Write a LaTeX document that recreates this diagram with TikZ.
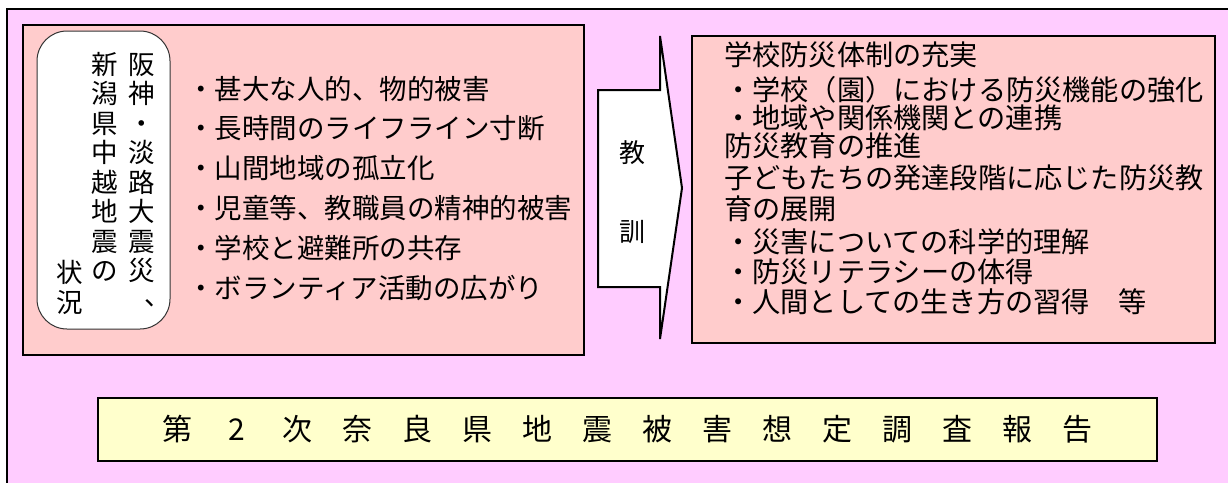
\documentclass[tikz,border=0pt]{standalone}
\usepackage{fontspec}
\newfontfamily\jp{Noto Sans CJK JP}
\definecolor{pinkbg}{RGB}{255,204,255}
\definecolor{rosebox}{RGB}{255,204,204}
\definecolor{creambox}{RGB}{255,255,204}
\tikzset{
  panel/.style={draw=black, line width=2.4pt, rectangle, inner sep=0pt},
  listtext/.style={anchor=base west, inner sep=0pt, font=\jp\fontsize{27.5}{30}\selectfont},
  righttext/.style={anchor=base west, inner sep=0pt, font=\jp\fontsize{28.2}{30}\selectfont},
  vchar/.style={anchor=base, inner sep=0pt, font=\jp\fontsize{26.5}{28}\selectfont},
  bannerchar/.style={anchor=base, inner sep=0pt, font=\jp\fontsize{30}{32}\selectfont},
  arrowchar/.style={anchor=base, inner sep=0pt, font=\jp\fontsize{26}{28}\selectfont}
}
\begin{document}
\begin{tikzpicture}[x=1pt,y=-1pt]
\useasboundingbox (0,0) rectangle (1228,482);
\clip (0,0) rectangle (1228,482);
\fill[white] (0,0) rectangle (1228,482);
% outer frame
\fill[pinkbg] (7,9) rectangle (1240,495);
\draw[line width=2pt] (1240,9) -- (7,9) -- (7,495);
% left panel
\node[panel, fill=rosebox, minimum width=561pt, minimum height=330pt] (leftbox) at (303.5,190) {};
\node[draw=black!80, line width=1pt, fill=white, rectangle, rounded corners=30pt, minimum width=133pt, minimum height=298pt, inner sep=0pt] (oval) at (103.5,180) {};
% vertical columns
\foreach \c [count=\i] in {阪,神,・,淡,路,大,震,災}{
  \node[vchar] (ca\i) at (142,{64+29.5*(\i-1)+10}) {\c};
}
\node[vchar] (ca9) at (158,305) {、};
\foreach \c [count=\i] in {新,潟,県,中,越,地,震,の}{
  \node[vchar] (cb\i) at (105,{64+29.5*(\i-1)+10}) {\c};
}
\node[vchar] (cc1) at (70,{272+10}) {状};
\node[vchar] (cc2) at (70,{302+10}) {況};
% left list
\node[listtext] (l1) at (187,99.5) {・甚大な人的、物的被害};
\node[listtext] (l2) at (187,138.5) {・長時間のライフライン寸断};
\node[listtext] (l3) at (187,178.5) {・山間地域の孤立化};
\node[listtext] (l4) at (187,218.5) {・児童等、教職員の精神的被害};
\node[listtext] (l5) at (187,258.5) {・学校と避難所の共存};
\node[listtext] (l6) at (187,298.5) {・ボランティア活動の広がり};
% arrow
\draw[line width=2pt, fill=white, line join=miter] (598,90) -- (660,90) -- (660,36) -- (682,188) -- (660,339) -- (660,287) -- (598,287) -- cycle;
\node[arrowchar] (k1) at (632,162) {教};
\node[arrowchar] (k2) at (632,241) {訓};
% right panel
\node[panel, line width=2pt, fill=rosebox, minimum width=523pt, minimum height=307pt] (rightbox) at (953.5,189.5) {};
\node[righttext] (r1) at (724,65.5) {学校防災体制の充実};
\node[righttext] (r2) at (724,100.5) {・学校（園）における防災機能の強化};
\node[righttext] (r3) at (724,128.5) {・地域や関係機関との連携};
\node[righttext] (r4) at (724,156.5) {防災教育の推進};
\node[righttext] (r5) at (724,188.5) {子どもたちの発達段階に応じた防災教};
\node[righttext] (r6) at (724,219.5) {育の展開};
\node[righttext] (r7) at (724,252.5) {・災害についての科学的理解};
\node[righttext] (r8) at (724,282.5) {・防災リテラシーの体得};
\node[righttext] (r9) at (724,312.5) {・人間としての生き方の習得　等};
% banner
\node[panel, fill=creambox, minimum width=1059pt, minimum height=63pt] (banner) at (627.5,429.5) {};
\foreach \c [count=\i] in {第,2,次,奈,良,県,地,震,被,害,想,定,調,査,報,告}{
  \node[bannerchar] (b\i) at ({177+60*(\i-1)},440.5) {\c};
}
\end{tikzpicture}
\end{document}
